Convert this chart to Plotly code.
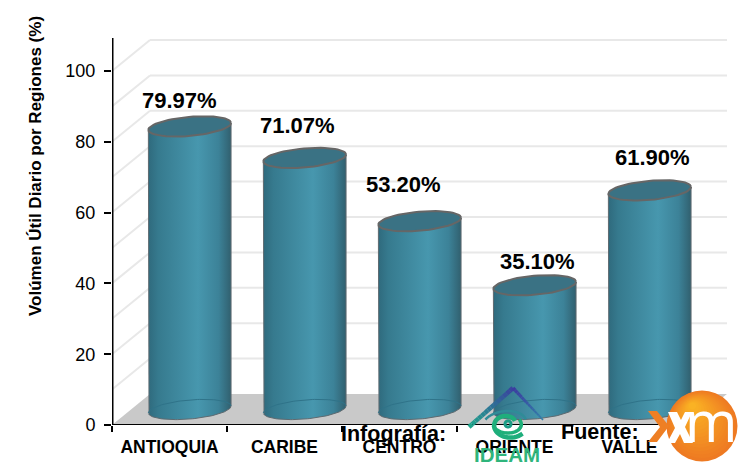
import math
import plotly.graph_objects as go

# ---- data -------------------------------------------------------------
categories = ["ANTIOQUIA", "CARIBE", "CENTRO", "ORIENTE", "VALLE"]
values = [79.97, 71.07, 53.20, 35.10, 61.90]
value_labels = ["79.97%", "71.07%", "53.20%", "35.10%", "61.90%"]
y_ticks = [0, 20, 40, 60, 80, 100]
wall_levels = [0, 10, 20, 30, 40, 50, 60, 70, 80, 90, 100]
y_title = "Volúmen Útil Diario por Regiones (%)"

# ---- styling / layout constants --------------------------------------
W, H = 748, 462
L, R, T, B = 112, 727, 38, 425
PX_X = 115.0                 # px per category
PX_Y = 3.54                  # px per value unit
X_MAX = -0.5 + (R - L) / PX_X
Y_MAX = (B - T) / PX_Y
DEPTH_X, DEPTH_Y = 38 / PX_X, 31 / PX_Y
OFF_X, OFF_Y = 20.2 / PX_X, 15.5 / PX_Y
ELL_A, ELL_B, TILT = 41.5, 9.5, math.radians(5)
FONT = "Liberation Sans, Arial, sans-serif"
label_shift = [(-10.7, 26), (-7.7, 32), (-16.7, 37), (2.3, 24), (2.3, 33)]
BODY_SCALE = [[0, "#2f6a7d"], [0.12, "#367a8e"], [0.6, "#4797ae"], [0.85, "#3c8298"], [1, "#31606f"]]


def ellipse(cx, cy, t0, t1, n=60):
    xs, ys = [], []
    for k in range(n + 1):
        t = t0 + (t1 - t0) * k / n
        ex = ELL_A * math.cos(t) * math.cos(TILT) - ELL_B * math.sin(t) * math.sin(TILT)
        ey = ELL_A * math.cos(t) * math.sin(TILT) + ELL_B * math.sin(t) * math.cos(TILT)
        xs.append(cx + ex / PX_X)
        ys.append(cy + ey / PX_Y)
    return xs, ys


def px(x):
    return (x - L) / (R - L)


def py(y):
    return (B - y) / (B - T)


def poly(points, close=False):
    s = "M " + " L ".join(f"{px(a):.5f},{py(b):.5f}" for a, b in points)
    return s + (" Z" if close else "")


fig = go.Figure()

# real bars give the height of each column; cylinder surfaces are dressed on top
fig.add_trace(go.Bar(
    x=[i + OFF_X for i in range(len(values))], y=values, base=OFF_Y, width=0.6,
    marker=dict(color="#3f8aa0", line=dict(width=0)), showlegend=False, hoverinfo="skip",
))

for i, v in enumerate(values):
    cx = i + OFF_X
    top = v + OFF_Y
    lx, ly = ellipse(cx, OFF_Y, math.pi, 2 * math.pi)
    tlx, tly = ellipse(cx, top, math.pi, math.pi, 1)
    trx, try_ = ellipse(cx, top, 0, 0, 1)
    fig.add_trace(go.Scatter(
        x=[tlx[0]] + lx + [trx[0], tlx[0]],
        y=[tly[0]] + ly + [try_[0], tly[0]],
        mode="lines", fill="toself",
        fillgradient=dict(type="horizontal", colorscale=BODY_SCALE),
        line=dict(color="#5f6a70", width=1), showlegend=False, hoverinfo="skip",
    ))
    ax, ay = ellipse(cx, OFF_Y, 0, math.pi)
    fig.add_trace(go.Scatter(x=ax, y=ay, mode="lines", line=dict(color="#2f7389", width=1),
                             showlegend=False, hoverinfo="skip"))
    ex, ey = ellipse(cx, top, 0, 2 * math.pi)
    fig.add_trace(go.Scatter(x=ex, y=ey, mode="lines", fill="toself", fillcolor="#3a7284",
                             line=dict(color="#666666", width=2), showlegend=False, hoverinfo="skip"))

# axis lines
fig.add_trace(go.Scatter(x=[-0.56, 4.5], y=[0, 0], mode="lines", cliponaxis=False,
                         line=dict(color="#000000", width=2), showlegend=False, hoverinfo="skip"))
fig.add_trace(go.Scatter(x=[-0.5, -0.5], y=[0, Y_MAX], mode="lines", cliponaxis=False,
                         line=dict(color="#000000", width=3), showlegend=False, hoverinfo="skip"))

shapes = []
# floor
shapes.append(dict(type="path", xref="x", yref="y", layer="below", line=dict(width=0), fillcolor="#c9c9c9",
                   path=f"M -0.5,0 L {-0.5 + DEPTH_X},{DEPTH_Y} L {X_MAX},{DEPTH_Y} L {4.5},0 Z"))
# walls
for lv in wall_levels[1:]:
    shapes.append(dict(type="line", xref="x", yref="y", layer="below", line=dict(color="#e8e8e8", width=2),
                       x0=-0.5, y0=lv, x1=-0.5 + DEPTH_X, y1=lv + DEPTH_Y))
    shapes.append(dict(type="line", xref="x", yref="y", layer="below", line=dict(color="#e8e8e8", width=2),
                       x0=-0.5 + DEPTH_X, y0=lv + DEPTH_Y, x1=X_MAX, y1=lv + DEPTH_Y))


def lerp_color(c0, c1, t):
    return "rgb(" + ",".join(str(round(a + (b - a) * t)) for a, b in zip(c0, c1)) + ")"


# IDEAM logo: roof
roof = [(469, 427), (513, 388), (543, 420)]
steps = 14
for seg, (c0, c1) in enumerate([((32, 165, 140), (60, 60, 160)), ((60, 60, 160), (50, 130, 170))]):
    (a0, b0), (a1, b1) = roof[seg], roof[seg + 1]
    for k in range(steps):
        t0, t1 = k / steps, (k + 1) / steps
        shapes.append(dict(type="line", xref="paper", yref="paper", layer="above",
                           line=dict(color=lerp_color(c0, c1, t0), width=4.5 if seg == 0 else 3.5 - 2 * t0),
                           x0=px(a0 + (a1 - a0) * t0), y0=py(b0 + (b1 - b0) * t0),
                           x1=px(a0 + (a1 - a0) * t1), y1=py(b0 + (b1 - b0) * t1)))


# IDEAM logo: eye swirl
def arc(cx, cy, rx0, ry0, rx1, ry1, a0, a1, n=40):
    pts = []
    for k in range(n + 1):
        t = k / n
        a = math.radians(a0 + (a1 - a0) * t)
        pts.append((cx + (rx0 + (rx1 - rx0) * t) * math.cos(a), cy - (ry0 + (ry1 - ry0) * t) * math.sin(a)))
    return pts


swirls = [
    (arc(508, 424, 8, 6, 19, 15, 30, 320), "#1fae7c", 4.5),
    (arc(508, 424, 19, 13, 24, 13, 20, 160), "#2f8c98", 2.5),
    (arc(508, 424, 15, 9, 13, 9, 190, 390), "#1fb07a", 3.5),
    (arc(508, 424, 3, 3, 3, 3, 0, 360), "#1c9c86", 3),
]
for pts, col, w in swirls:
    shapes.append(dict(type="path", xref="paper", yref="paper", layer="above",
                       line=dict(color=col, width=w), path=poly(pts)))

# XM logo: orange sphere, layered toward the highlight
CX, CY, RAD = 702, 426, 35.5
HX, HY = 692, 405
n_layers = 16
for k in range(n_layers):
    t = k / (n_layers - 1)
    r = RAD * (1 - t * 0.9)
    cx = CX + (HX - CX) * t * 0.95
    cy = CY + (HY - CY) * t * 0.95
    shapes.append(dict(type="circle", xref="paper", yref="paper", layer="above", line=dict(width=0),
                       fillcolor=lerp_color((238, 122, 34), (250, 178, 36), t),
                       x0=px(cx - r), x1=px(cx + r), y0=py(cy - r), y1=py(cy + r)))
# the "x" of the logo is split by the sphere's edge
shapes.append(dict(type="path", xref="paper", yref="paper", layer="above", line=dict(width=0), fillcolor="#ee7f24",
                   path=poly([(648, 411), (657, 411), (669, 426), (657, 442), (648, 442), (660, 427)], True)))
shapes.append(dict(type="path", xref="paper", yref="paper", layer="above", line=dict(width=0), fillcolor="#ffffff",
                   path=poly([(668, 412), (677, 412), (681, 420), (685, 412), (692, 412), (685, 427), (693, 443),
                              (684, 443), (680, 434), (675, 443), (667, 443), (675, 428)], True)))

annotations = []
for i, (v, txt) in enumerate(zip(values, value_labels)):
    sx, sy = label_shift[i]
    annotations.append(dict(x=i + OFF_X, y=v + OFF_Y, xref="x", yref="y", text=f"<b>{txt}</b>", showarrow=False,
                            xanchor="center", yanchor="middle",
                            xshift=sx, yshift=sy, font=dict(family=FONT, size=22, color="#000000")))


def note(x, y, text, size, color="#000000", angle=0, family=FONT):
    annotations.append(dict(x=px(x), y=py(y), xref="paper", yref="paper", text=text, textangle=angle,
                            showarrow=False, xanchor="center", yanchor="middle",
                            font=dict(family=family, size=size, color=color)))


note(35, 166, f"<b>{y_title}</b>", 17, angle=-90)
note(393, 434, "<b>Infografía:</b>", 21.5)
note(600, 432, "<b>Fuente:</b>", 21.5)
note(507, 454, "<b>IDEAM</b>", 20.5, color="#2fb57c")
note(711, 420, "m", 56, color="#ffffff", family="Noto Sans, sans-serif")

fig.update_layout(
    width=W, height=H, autosize=False,
    margin=dict(l=L, r=W - R, t=T, b=H - B, pad=0),
    paper_bgcolor="#ffffff", plot_bgcolor="#ffffff",
    showlegend=False, shapes=shapes, annotations=annotations, bargap=0,
    xaxis=dict(range=[-0.5, X_MAX], tickmode="array", tickvals=list(range(len(categories))), ticktext=categories,
               ticks="", showgrid=False, zeroline=False, showline=False, ticklabelstandoff=9, automargin=False,
               tickfont=dict(family=FONT, size=17.5, color="#000000", weight="bold"),
               minor=dict(tickmode="array", tickvals=[k - 0.5 for k in range(len(categories) + 1)], ticks="outside",
                          ticklen=6, tickwidth=2, tickcolor="#000000", showgrid=False)),
    yaxis=dict(range=[0, Y_MAX], tickmode="array", tickvals=y_ticks, ticks="outside", ticklen=7, tickwidth=2,
               tickcolor="#000000", showline=False, showgrid=False,
               zeroline=False, ticklabelstandoff=5, automargin=False,
               tickfont=dict(family=FONT, size=18, color="#000000")),
)

fig.write_html("out.html", config={"displayModeBar": False},
               post_script="document.body.style.margin='0';")
